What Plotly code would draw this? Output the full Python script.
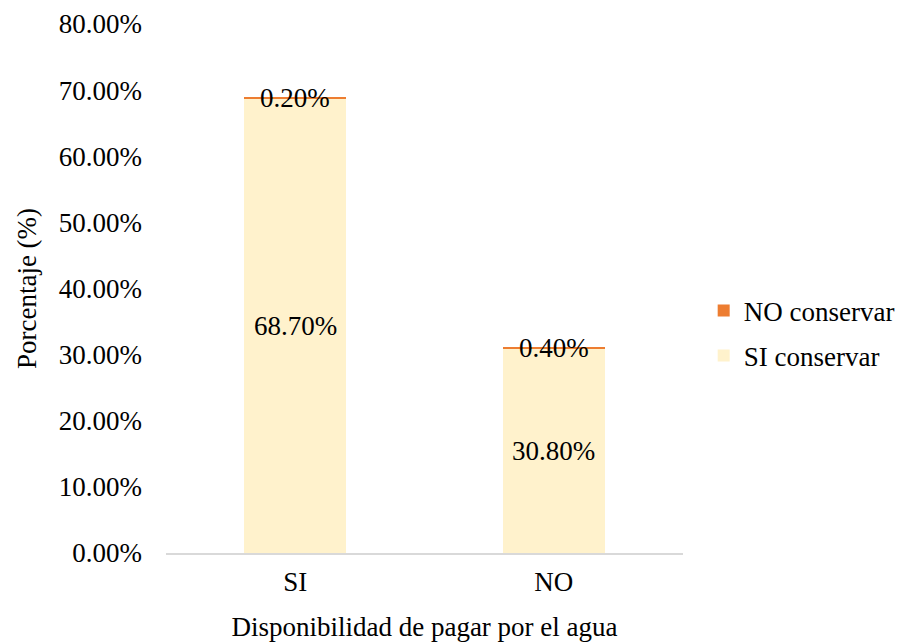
import plotly.graph_objects as go

# Willingness to pay for water vs. intent to conserve
categories = ["SI", "NO"]
si_conservar = [68.70, 30.80]
no_conservar = [0.20, 0.40]
y_ticks = [0, 10, 20, 30, 40, 50, 60, 70, 80]

FONT = "Liberation Serif, Times New Roman, serif"
SIZE = 27
SI_COLOR = "#FFF2CC"
NO_COLOR = "#ED7D31"

fig = go.Figure()
fig.add_trace(go.Bar(
    x=categories, y=si_conservar, name="SI conservar",
    marker=dict(color=SI_COLOR, line=dict(width=0)),
    legendgroup="si", legendrank=2,
))
fig.add_trace(go.Bar(
    x=categories, y=no_conservar, name="NO conservar",
    marker=dict(color=NO_COLOR, line=dict(width=0)),
    legendgroup="no", legendrank=1,
))

# Value labels centred on each stacked segment
annotations = []
for cat, s, n in zip(categories, si_conservar, no_conservar):
    annotations.append(dict(x=cat, y=s / 2, text=f"{s:.2f}%", showarrow=False,
                            font=dict(family=FONT, size=SIZE, color="#000")))
    annotations.append(dict(x=cat, y=s + n / 2, text=f"{n:.2f}%", showarrow=False,
                            font=dict(family=FONT, size=SIZE, color="#000")))

fig.update_layout(
    width=904, height=642,
    margin=dict(l=166, r=221, t=24, b=89, autoexpand=False),
    paper_bgcolor="white", plot_bgcolor="white",
    barmode="stack", bargap=0.605,
    font=dict(family=FONT, size=SIZE, color="#000"),
    annotations=annotations,
    showlegend=True,
    legend=dict(
        x=1.04, y=0.415, xanchor="left", yanchor="middle",
        traceorder="grouped", tracegroupgap=7,
        font=dict(family=FONT, size=SIZE, color="#000"),
        itemwidth=30,
    ),
    xaxis=dict(
        showline=True, linecolor="#D9D9D9", linewidth=2,
        ticks="", showgrid=False,
        tickfont=dict(family=FONT, size=SIZE),
        ticklabelstandoff=4,
        title=dict(text="Disponibilidad de pagar por el agua",
                   font=dict(family=FONT, size=SIZE), standoff=22),
    ),
    yaxis=dict(
        range=[0, 80], tickvals=y_ticks,
        ticktext=[f"{v:.2f}%" for v in y_ticks],
        showline=False, showgrid=False, zeroline=False, ticks="",
        tickfont=dict(family=FONT, size=SIZE),
        ticklabelstandoff=23,
        title=dict(text="Porcentaje (%)", font=dict(family=FONT, size=SIZE), standoff=14),
    ),
)

fig.write_html("out.html")
